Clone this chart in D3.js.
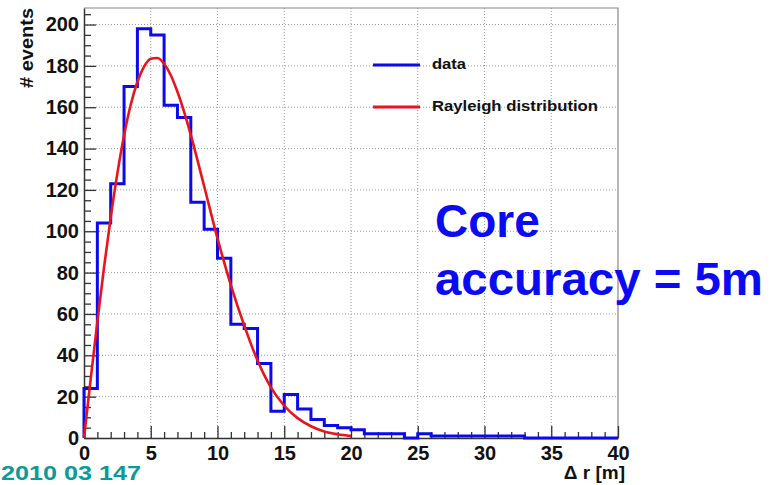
<!DOCTYPE html>
<html>
<head>
<meta charset="utf-8">
<script src="https://cdn.jsdelivr.net/npm/d3@7"></script>
<style>
  body { margin: 0; background: #fff; }
  svg text { font-family: "Liberation Sans", Arial, sans-serif; font-weight: bold; }
</style>
</head>
<body>
<script>
// histogram: 1 m bins, lower edges + counts
const binLow = [0,1,2,3,4,5,6,7,8,9,10,11,12,13,14,15,16,17,18,19,
                20,21,22,23,24,25,26,27,28,29,30,31,32,33,34,35,36,37,38,39];
const counts = [24,104,123,170,198,195,161,155,114,101,87,55,53,36,13,21,14,9,6,5,
                4,2,2,2,0,2,1,1,1,1,1,1,1,0,0,0,0,0,0,0];

// Rayleigh fit, points
const fitR = [0,0.5,1,1.5,2,2.5,3,3.5,4,4.5,5,5.5,6,6.5,7,7.5,8,9,10,11,12,13,14,15,16,17,18,19,20];
const fitN = [0,28.5,56.2,82.5,106.6,128,146.3,161.2,172.2,179.6,183.4,183.8,181,175.5,167.5,157.7,146.6,
              121.8,96.6,74,54.5,37.5,24.5,15.6,9.6,5.7,3.2,1.8,0.9];

const xMajor = [0,5,10,15,20,25,30,35,40];
const yMajor = [0,20,40,60,80,100,120,140,160,180,200];
const xMinor = binLow.filter(d => d % 5 !== 0);
const yMinor = [5,10,15,25,30,35,45,50,55,65,70,75,85,90,95,105,110,115,125,130,135,
                145,150,155,165,170,175,185,190,195,205];

const legendLabels = ["data", "Rayleigh distribution"];
const legendColors = ["#0a0aeb", "#e8141e"];
const legendTextWidth = [34, 166];

const width = 780, height = 485;
const frame = { left: 84, right: 618, top: 8, bottom: 438 };

const svg = d3.select("body").append("svg")
  .attr("xmlns", "http://www.w3.org/2000/svg")
  .attr("width", width)
  .attr("height", height);

const x = d3.scaleLinear().domain([0, 40]).range([frame.left, frame.right]);
const y = d3.scaleLinear().domain([0, 208]).range([frame.bottom, frame.top]);

// dotted grid
const grid = svg.append("g").attr("class", "grid")
  .attr("stroke", "#9a9a9a").attr("stroke-width", 1).attr("stroke-dasharray", "1,2");
grid.selectAll(".gx").data(xMajor.slice(1, -1)).join("line")
  .attr("x1", d => x(d)).attr("x2", d => x(d))
  .attr("y1", frame.top).attr("y2", frame.bottom);
grid.selectAll(".gy").data(yMajor.slice(1)).join("line")
  .attr("x1", frame.left).attr("x2", frame.right)
  .attr("y1", d => y(d)).attr("y2", d => y(d));

// frame top/right
svg.append("path")
  .attr("d", `M${frame.left},${frame.top}H${frame.right}V${frame.bottom}`)
  .attr("fill", "none").attr("stroke", "#888").attr("stroke-width", 1.2);

// axes, ticks inward like ROOT
const xAxis = svg.append("g").attr("transform", `translate(0,${frame.bottom})`)
  .call(d3.axisBottom(x).tickValues(xMajor).tickSizeInner(-12).tickSizeOuter(0).tickPadding(8));
svg.append("g").attr("transform", `translate(0,${frame.bottom})`)
  .call(d3.axisBottom(x).tickValues(xMinor).tickSizeInner(-6).tickSizeOuter(0).tickFormat(""))
  .call(g => g.select(".domain").remove());
const yAxis = svg.append("g").attr("transform", `translate(${frame.left},0)`)
  .call(d3.axisLeft(y).tickValues(yMajor).tickSizeInner(-12).tickSizeOuter(0).tickPadding(4));
svg.append("g").attr("transform", `translate(${frame.left},0)`)
  .call(d3.axisLeft(y).tickValues(yMinor).tickSizeInner(-7).tickSizeOuter(0).tickFormat(""))
  .call(g => g.select(".domain").remove());

svg.selectAll(".tick line").attr("stroke", "#333").attr("stroke-width", 1.3);
svg.selectAll(".domain").attr("stroke", "#333").attr("stroke-width", 1.5);
xAxis.selectAll(".tick text").attr("font-size", 20).attr("fill", "#111")
  .attr("font-family", "Liberation Sans, Arial, sans-serif").attr("font-weight", "bold");
yAxis.selectAll(".tick text").attr("font-size", 20).attr("fill", "#111")
  .attr("font-family", "Liberation Sans, Arial, sans-serif").attr("font-weight", "bold")
  .attr("dx", -1);

// histogram outline
const histPts = [{ x: 0, y: 0 }]
  .concat(binLow.map((b, i) => ({ x: b, y: counts[i] })))
  .concat([{ x: 40, y: counts[counts.length - 1] }]);
svg.append("path")
  .datum(histPts)
  .attr("fill", "none")
  .attr("stroke", legendColors[0])
  .attr("stroke-width", 3)
  .attr("d", d3.line().x(d => x(d.x)).y(d => y(d.y)).curve(d3.curveStepAfter));

// fitted curve
svg.append("path")
  .datum(fitR.map((r, i) => ({ x: r, y: fitN[i] })))
  .attr("fill", "none")
  .attr("stroke", legendColors[1])
  .attr("stroke-width", 2.6)
  .attr("d", d3.line().x(d => x(d.x)).y(d => y(d.y)).curve(d3.curveMonotoneX));

// legend
const legend = svg.append("g").attr("transform", "translate(373,65)");
const li = legend.selectAll("g").data(legendLabels).join("g")
  .attr("transform", (d, i) => `translate(0,${i * 42})`);
li.append("line").attr("x1", 0).attr("x2", 47)
  .attr("stroke", (d, i) => legendColors[i]).attr("stroke-width", 3);
li.append("text").attr("x", 59).attr("y", 4)
  .attr("font-size", 15.5).attr("fill", "#111")
  .attr("textLength", (d, i) => legendTextWidth[i])
  .attr("lengthAdjust", "spacingAndGlyphs")
  .text(d => d);

// axis titles
svg.append("text")
  .attr("transform", "translate(33,88) rotate(-90)")
  .attr("font-size", 18).attr("fill", "#111")
  .attr("textLength", 80).attr("lengthAdjust", "spacingAndGlyphs")
  .text("# events");
svg.append("text")
  .attr("x", 625).attr("y", 479).attr("text-anchor", "end")
  .attr("font-size", 19).attr("fill", "#111")
  .text("\u0394 r [m]");

// annotation
const note = svg.append("g").attr("fill", "#0a0af5");
note.append("text").attr("x", 435).attr("y", 237)
  .attr("font-size", 46).text("Core");
note.append("text").attr("x", 435).attr("y", 295)
  .attr("font-size", 46)
  .attr("textLength", 328).attr("lengthAdjust", "spacingAndGlyphs")
  .text("accuracy = 5m");

svg.append("text")
  .attr("x", 1).attr("y", 480)
  .attr("font-size", 20).attr("fill", "#0a9a9a")
  .attr("textLength", 140).attr("lengthAdjust", "spacingAndGlyphs")
  .text("2010 03 147");
</script>
</body>
</html>
